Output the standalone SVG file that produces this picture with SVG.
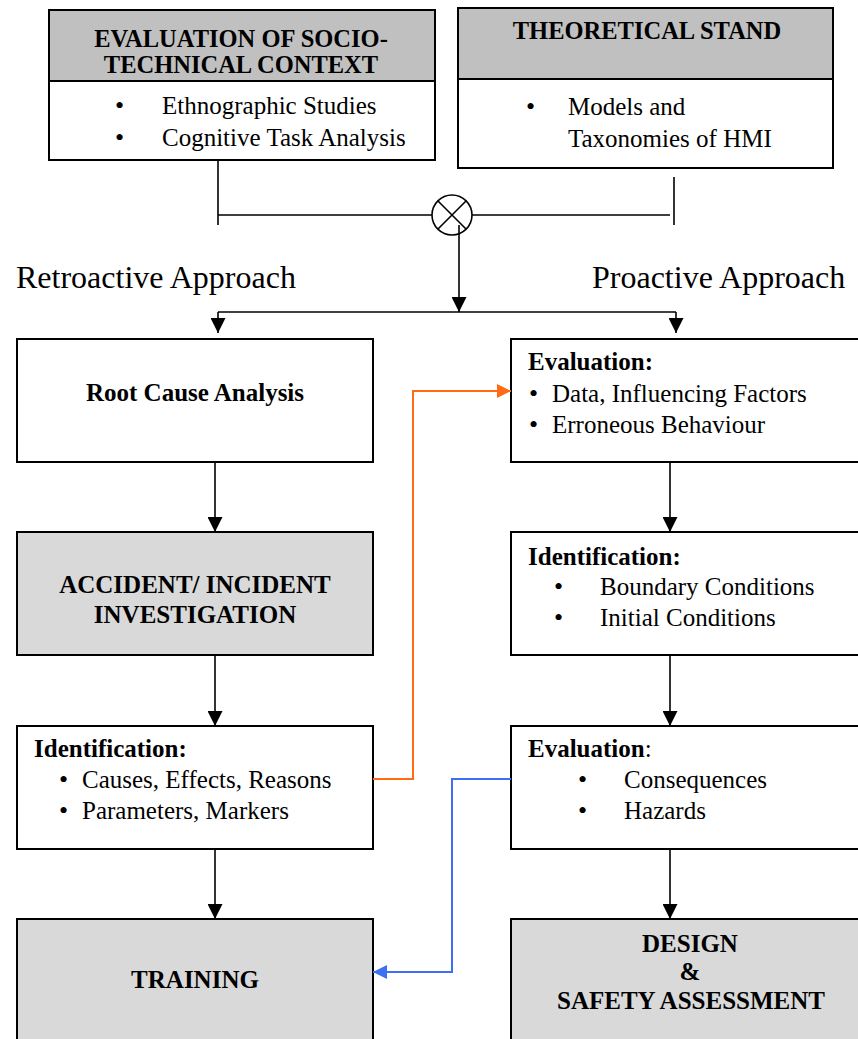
<svg xmlns="http://www.w3.org/2000/svg" width="858" height="1039" viewBox="0 0 858 1039">
  <defs>
    <style>
      .box { stroke: #000; stroke-width: 2; }
      .white { fill: #fff; }
      .head { fill: #c0c0c0; }
      .grey { fill: #d9d9d9; }
      text { font-family: "Liberation Serif", "Times New Roman", serif; fill: #000; }
      .t { font-size: 25px; }
      .dot { font-size: 26px; }
      .b { font-size: 25px; font-weight: bold; }
      .h { font-size: 24.5px; font-weight: bold; }
      .big { font-size: 32px; }
      .mid { text-anchor: middle; }
      .ln { fill: none; stroke: #000; stroke-width: 1.6; }
      .org { fill: none; stroke: #ff6a13; stroke-width: 2; }
      .blu { fill: none; stroke: #3d6ff2; stroke-width: 2; }
    </style>
    <marker id="ah" viewBox="0 0 10 10" refX="10" refY="5" markerWidth="15" markerHeight="15" markerUnits="userSpaceOnUse" orient="auto">
      <path d="M0,0 L10,5 L0,10 z" fill="#000"/>
    </marker>
    <marker id="ahO" viewBox="0 0 10 10" refX="10" refY="5" markerWidth="15" markerHeight="14" markerUnits="userSpaceOnUse" orient="auto">
      <path d="M0,0 L10,5 L0,10 z" fill="#ff6a13"/>
    </marker>
    <marker id="ahB" viewBox="0 0 10 10" refX="10" refY="5" markerWidth="15" markerHeight="14" markerUnits="userSpaceOnUse" orient="auto">
      <path d="M0,0 L10,5 L0,10 z" fill="#3d6ff2"/>
    </marker>
  </defs>

  <rect width="858" height="1039" fill="#fff"/>

  <!-- socio-technical context -->
  <g id="socio-technical">
    <rect class="box white" x="49" y="10" width="386" height="150"/>
    <rect class="box head" x="49" y="10" width="386" height="71"/>
    <text class="h mid" x="241" y="47">EVALUATION OF SOCIO-</text>
    <text class="h mid" x="241" y="73">TECHNICAL CONTEXT</text>
    <text class="t" y="114"><tspan class="dot" x="115">•</tspan><tspan x="162">Ethnographic Studies</tspan></text>
    <text class="t" y="146"><tspan class="dot" x="115">•</tspan><tspan x="162">Cognitive Task Analysis</tspan></text>
  </g>

  <!-- theoretical stand -->
  <g id="theoretical-stand">
    <rect class="box white" x="458" y="8" width="375" height="160"/>
    <rect class="box head" x="458" y="8" width="375" height="71"/>
    <text class="h mid" x="647" y="39">THEORETICAL STAND</text>
    <text class="t" y="115"><tspan class="dot" x="526">•</tspan><tspan x="568">Models and</tspan></text>
    <text class="t" x="568" y="147">Taxonomies of HMI</text>
  </g>

  <!-- combination operator -->
  <g id="combine">
    <circle cx="452" cy="215" r="20" fill="#fff" stroke="#000" stroke-width="1.6"/>
    <path class="ln" d="M438,201 L466,229 M466,201 L438,229"/>
  </g>

  <g id="labels">
    <text class="big" x="16" y="288">Retroactive Approach</text>
    <text class="big" x="592" y="288">Proactive Approach</text>
  </g>

  <!-- retroactive column -->
  <g id="root-cause">
    <rect class="box white" x="17" y="339" width="356" height="123"/>
    <text class="b mid" x="195" y="401">Root Cause Analysis</text>
  </g>
  <g id="accident-investigation">
    <rect class="box grey" x="17" y="532" width="356" height="123"/>
    <text class="b mid" x="195" y="593">ACCIDENT/ INCIDENT</text>
    <text class="b mid" x="195" y="623">INVESTIGATION</text>
  </g>
  <g id="identification-causes">
    <rect class="box white" x="17" y="726" width="356" height="123"/>
    <text class="b" x="34" y="757">Identification:</text>
    <text class="t" y="788"><tspan class="dot" x="59">•</tspan><tspan x="82">Causes, Effects, Reasons</tspan></text>
    <text class="t" y="819"><tspan class="dot" x="59">•</tspan><tspan x="82">Parameters, Markers</tspan></text>
  </g>
  <g id="training">
    <rect class="box grey" x="17" y="919" width="356" height="140"/>
    <text class="b mid" x="195" y="988">TRAINING</text>
  </g>

  <!-- proactive column -->
  <g id="evaluation-data">
    <rect class="box white" x="511" y="339" width="360" height="123"/>
    <text class="b" x="528" y="370">Evaluation:</text>
    <text class="t" y="402"><tspan class="dot" x="529">•</tspan><tspan x="552">Data, Influencing Factors</tspan></text>
    <text class="t" y="433"><tspan class="dot" x="529">•</tspan><tspan x="552">Erroneous Behaviour</tspan></text>
  </g>
  <g id="identification-conditions">
    <rect class="box white" x="511" y="532" width="360" height="123"/>
    <text class="b" x="528" y="565">Identification:</text>
    <text class="t" y="595"><tspan class="dot" x="554">•</tspan><tspan x="600">Boundary Conditions</tspan></text>
    <text class="t" y="626"><tspan class="dot" x="554">•</tspan><tspan x="600">Initial Conditions</tspan></text>
  </g>
  <g id="evaluation-consequences">
    <rect class="box white" x="511" y="726" width="360" height="123"/>
    <text class="t" x="528" y="757"><tspan font-weight="bold">Evaluation</tspan>:</text>
    <text class="t" y="788"><tspan class="dot" x="578">•</tspan><tspan x="624">Consequences</tspan></text>
    <text class="t" y="819"><tspan class="dot" x="578">•</tspan><tspan x="624">Hazards</tspan></text>
  </g>
  <g id="design-safety">
    <rect class="box grey" x="511" y="919" width="360" height="140"/>
    <text class="b mid" x="690" y="952">DESIGN</text>
    <text class="b mid" x="690" y="980">&amp;</text>
    <text class="b mid" x="691" y="1009">SAFETY ASSESSMENT</text>
  </g>

  <!-- connectors -->
  <g id="connectors">
    <path class="ln" d="M218,160 V225"/>
    <path class="ln" d="M674,177 V225"/>
    <path class="ln" d="M218,215 H432 M472,215 H670"/>
    <path class="ln" d="M459,225 V312" marker-end="url(#ah)"/>
    <path class="ln" d="M218,312 H676"/>
    <path class="ln" d="M218,312 V333" marker-end="url(#ah)"/>
    <path class="ln" d="M676,312 V333" marker-end="url(#ah)"/>
    <path class="ln" d="M215,462 V532" marker-end="url(#ah)"/>
    <path class="ln" d="M215,655 V726" marker-end="url(#ah)"/>
    <path class="ln" d="M215,849 V919" marker-end="url(#ah)"/>
    <path class="ln" d="M670,462 V532" marker-end="url(#ah)"/>
    <path class="ln" d="M670,655 V726" marker-end="url(#ah)"/>
    <path class="ln" d="M670,849 V919" marker-end="url(#ah)"/>
    <path class="org" d="M373,779 H413 V391 H511" marker-end="url(#ahO)"/>
    <path class="blu" d="M511,779 H452 V972 H373" marker-end="url(#ahB)"/>
  </g>
</svg>
